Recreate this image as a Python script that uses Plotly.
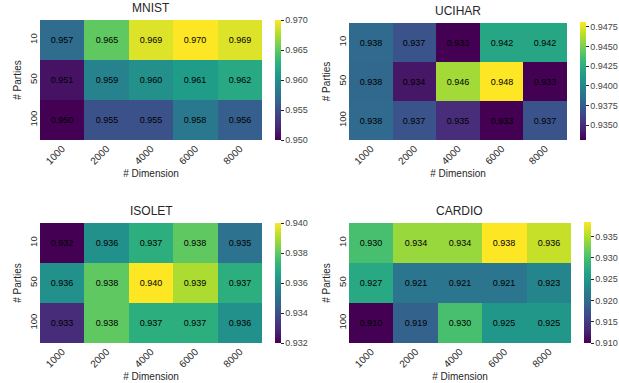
import plotly.graph_objects as go

W, H = 619, 383

dimensions = ["1000", "2000", "4000", "6000", "8000"]
parties = ["10", "50", "100"]

mnist = [[0.957, 0.965, 0.969, 0.970, 0.969],
         [0.951, 0.959, 0.960, 0.961, 0.962],
         [0.950, 0.955, 0.955, 0.958, 0.956]]
ucihar = [[0.9382, 0.9370, 0.9331, 0.9420, 0.9420],
          [0.9381, 0.9340, 0.9460, 0.9481, 0.9331],
          [0.9382, 0.9370, 0.9350, 0.9331, 0.9370]]
isolet = [[0.932, 0.936, 0.937, 0.938, 0.935],
          [0.936, 0.938, 0.940, 0.939, 0.937],
          [0.933, 0.938, 0.937, 0.937, 0.936]]
cardio = [[0.930, 0.934, 0.934, 0.9384, 0.936],
          [0.927, 0.921, 0.921, 0.921, 0.923],
          [0.910, 0.919, 0.930, 0.925, 0.925]]

titles = ["MNIST", "UCIHAR", "ISOLET", "CARDIO"]
datasets = [mnist, ucihar, isolet, cardio]
cb_dtick = [0.005, 0.0025, 0.002, 0.005]
cb_fmt = [".3f", ".4f", ".3f", ".3f"]

# pixel boxes: heatmap (x0, x1, y0, y1), colorbar (x0, x1, y0, y1)
hm_box = [(40, 262, 20, 140), (349, 567, 23, 140), (40, 262, 223, 343), (349, 571, 223, 343)]
cb_box = [(275, 281, 20, 140), (580, 586, 22, 140), (275, 281, 223, 343), (584, 591, 222, 343)]

FONT = "Liberation Sans, Arial, sans-serif"
TXT = "#262626"

fig = go.Figure()
layout = dict(width=W, height=H, margin=dict(l=0, r=0, t=0, b=0, autoexpand=False),
              paper_bgcolor="white", plot_bgcolor="white",
              font=dict(family=FONT, color=TXT, size=10), showlegend=False)
annotations = []

for i, (z, title) in enumerate(zip(datasets, titles)):
    xa = "x" if i == 0 else f"x{i+1}"
    ya = "y" if i == 0 else f"y{i+1}"
    hx0, hx1, hy0, hy1 = hm_box[i]
    cx0, cx1, cy0, cy1 = cb_box[i]
    fig.add_trace(go.Heatmap(
        z=z, x=dimensions, y=parties, xaxis=xa, yaxis=ya,
        colorscale="Viridis", xgap=0, ygap=0,
        texttemplate="%{z:.3f}", textfont=dict(color="black", size=9, family=FONT),
        colorbar=dict(x=cx0 / W, xanchor="left", xpad=0,
                      y=1 - cy1 / H, yanchor="bottom", ypad=0,
                      len=(cy1 - cy0) / H, lenmode="fraction",
                      thickness=cx1 - cx0, thicknessmode="pixels",
                      outlinewidth=0, ticks="outside", ticklen=3, tickwidth=1,
                      tickcolor=TXT, dtick=cb_dtick[i], tick0=0.0,
                      tickformat=cb_fmt[i],
                      tickfont=dict(size=9, color="#444444", family=FONT)),
        hoverinfo="skip"))
    xkey = "xaxis" if i == 0 else f"xaxis{i+1}"
    ykey = "yaxis" if i == 0 else f"yaxis{i+1}"
    layout[xkey] = dict(domain=[hx0 / W, hx1 / W], anchor=ya, type="category",
                        tickangle=-45, ticks="", showgrid=False, zeroline=False,
                        showline=False, automargin=False, tickfont=dict(size=10, color=TXT),
                        title=dict(text="# Dimension", font=dict(size=10, color=TXT), standoff=4))
    layout[ykey] = dict(domain=[1 - hy1 / H, 1 - hy0 / H], anchor=xa, type="category",
                        autorange="reversed", tickangle=-90, ticks="", showgrid=False,
                        zeroline=False, showline=False, automargin=False,
                        tickfont=dict(size=9.5, color=TXT),
                        title=dict(text="# Parties", font=dict(size=10, color=TXT), standoff=4))
    annotations.append(dict(text=title, x=(hx0 + hx1) / 2 / W, y=1 - (hy0 - 3) / H,
                            xref="paper", yref="paper", xanchor="center", yanchor="bottom",
                            showarrow=False, font=dict(size=12, color=TXT, family=FONT)))

layout["annotations"] = annotations
fig.update_layout(**layout)
fig.write_html("out.html", config={"displayModeBar": False, "staticPlot": True},
               post_script="document.body.style.margin='0';document.body.style.overflow='hidden';")
